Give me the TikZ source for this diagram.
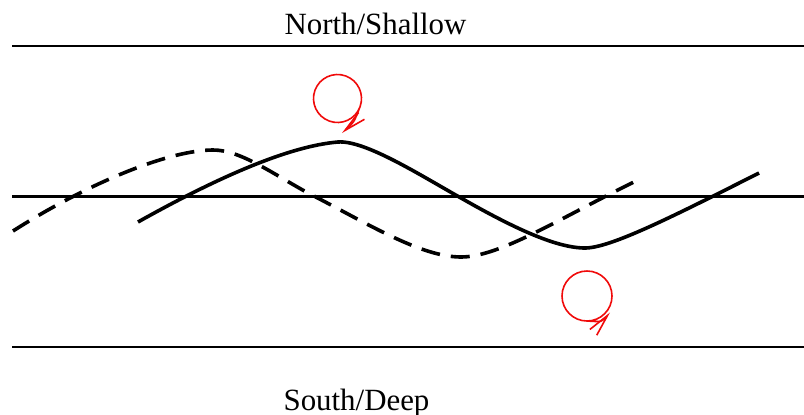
\documentclass[tikz,border=0pt]{standalone}
\usepackage{fontspec}
\setmainfont{Liberation Serif}
\usepackage{tikz}
\usetikzlibrary{
  arrows.meta,
  positioning
}
\definecolor{eddyred}{RGB}{240, 10, 10}

\begin{document}
\begin{tikzpicture}[
  x=1bp, y=-1bp,
  layer/.style={draw=black, line width=2.1bp},
  wave/.style={draw=black, line width=3.6bp},
  shifted/.style={wave, dash pattern=on 19bp off 11bp},
  eddy/.style={
    draw=eddyred, line width=1.6bp,
    -{Straight Barb[length=22pt, width=9pt, line width=1.6bp]}
  },
  label/.style={font=\fontsize{31}{36}\selectfont, anchor=base, inner sep=0pt}
]
\useasboundingbox (0,0) rectangle (804,414);

% boundaries and mid line
\draw[layer] (12,46)    -- (804,46);
\draw[layer] (12,196.5) -- (804,196.5);
\draw[layer] (12,347)   -- (804,347);

\node[label] (north) at (375.5,34.5) {North/Shallow};
\node[label] (south) at (356.5,410) {South/Deep};

% waves
\draw[wave] (138,222) .. controls (220,176) and (290,146) .. (338,142)
  .. controls (365,140) and (420,175) .. (461,198)
  .. controls (510,226) and (555,248) .. (585,248)
  .. controls (610,248) and (670,218) .. (759,173);
\draw[shifted] (13,231) .. controls (90,182) and (170,150) .. (213,150)
  .. controls (240,150) and (270,172) .. (308,193)
  .. controls (365,222) and (420,257) .. (461,257)
  .. controls (500,257) and (560,218) .. (636,181);

% eddies
\coordinate (c1) at (337.5,98.5);
\coordinate (c2) at (587,296);
\coordinate (t1) at (342,133);
\coordinate (t2) at (610,312.5);
\draw[eddy] ([shift={(20:24)}]c1) arc[start angle=20, end angle=380, radius=24]
  .. controls (354,122.5) .. (t1);
\draw[eddy] ([shift={(90:25)}]c2) arc[start angle=450, end angle=90, radius=25]
  .. controls (602,322) .. (t2);
\end{tikzpicture}
\end{document}
